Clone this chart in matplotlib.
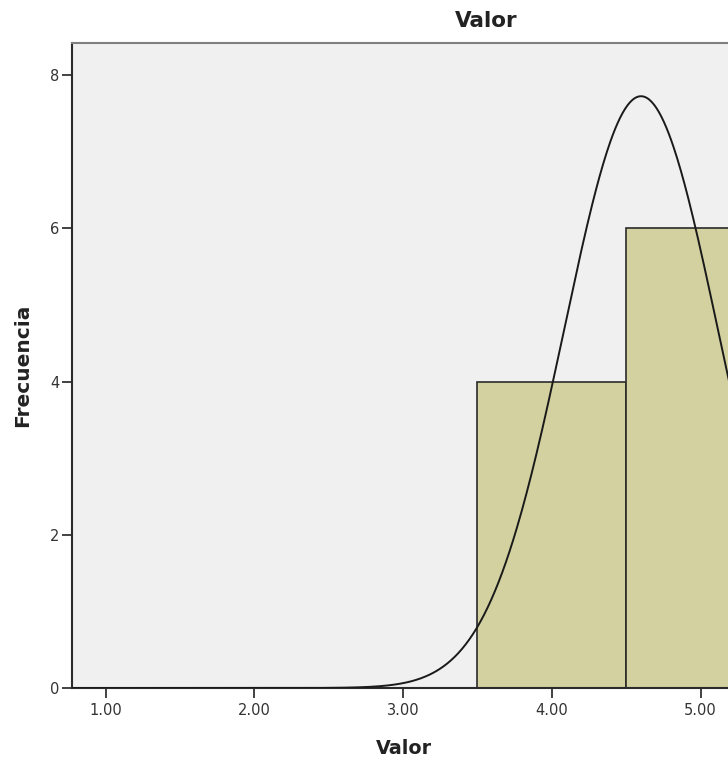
import numpy as np
import matplotlib.pyplot as plt

plt.rcParams['font.family'] = ['DejaVu Sans']

valores = [4.0, 5.0]
frecuencias = [4, 6]
ancho = 1.0
xticks = [1.0, 2.0, 3.0, 4.0, 5.0]
yticks = [0, 2, 4, 6, 8]

# curva normal con media y desviacion de los datos
datos = np.repeat(valores, frecuencias)
media = datos.mean()
desv = datos.std(ddof=1)
n = len(datos)

W, H = 728, 761
fig = plt.figure(figsize=(W / 100, H / 100), dpi=100)
fig.patch.set_facecolor('white')

# eje: izquierda 72px, arriba 43px, abajo 688px; la derecha queda recortada
ax = fig.add_axes([72 / W, (H - 688) / H, (800 - 72) / W, (688 - 43) / H])
ax.set_facecolor('#f0f0f1')

px = 148.7
x0 = 1 - (105.7 - 72) / px
x1 = 1 + (800 - 105.7) / px
ax.set_xlim(x0, x1)
ax.set_ylim(0, (688 - 43) / 76.6)

ax.bar(valores, frecuencias, width=ancho, color='#d3d1a0', edgecolor='#2b2b2b',
       linewidth=1.2, zorder=2)

xs = np.linspace(x0, x1, 600)
curva = n * ancho / (desv * np.sqrt(2 * np.pi)) * np.exp(-0.5 * ((xs - media) / desv) ** 2)
ax.plot(xs, curva, color='#1a1a1a', linewidth=1.4, zorder=3)

ax.set_xticks(xticks)
ax.set_xticklabels(['%.2f' % v for v in xticks])
ax.set_yticks(yticks)
ax.tick_params(axis='both', direction='out', length=7, width=1.3, colors='#333333',
               labelsize=10.5, labelcolor='#333333')
ax.tick_params(axis='x', pad=3.5)
ax.tick_params(axis='y', pad=2)

for lado in ['left', 'bottom']:
    ax.spines[lado].set_color('#2b2b2b')
    ax.spines[lado].set_linewidth(1.5)
ax.spines['top'].set_color('#7f7f7f')
ax.spines['top'].set_linewidth(1.5)
ax.spines['right'].set_visible(False)

fig.text(486 / W, 1 - 21 / H, 'Valor', ha='center', va='center', fontsize=15.5,
         fontweight='bold', color='#222222')
fig.text(403.5 / W, 1 - 748 / H, 'Valor', ha='center', va='center', fontsize=13.8,
         fontweight='bold', color='#222222')
fig.text(23 / W, 1 - 365 / H, 'Frecuencia', ha='center', va='center', fontsize=14.5,
         fontweight='bold', color='#222222', rotation=90)

fig.savefig('out.png', dpi=100)
